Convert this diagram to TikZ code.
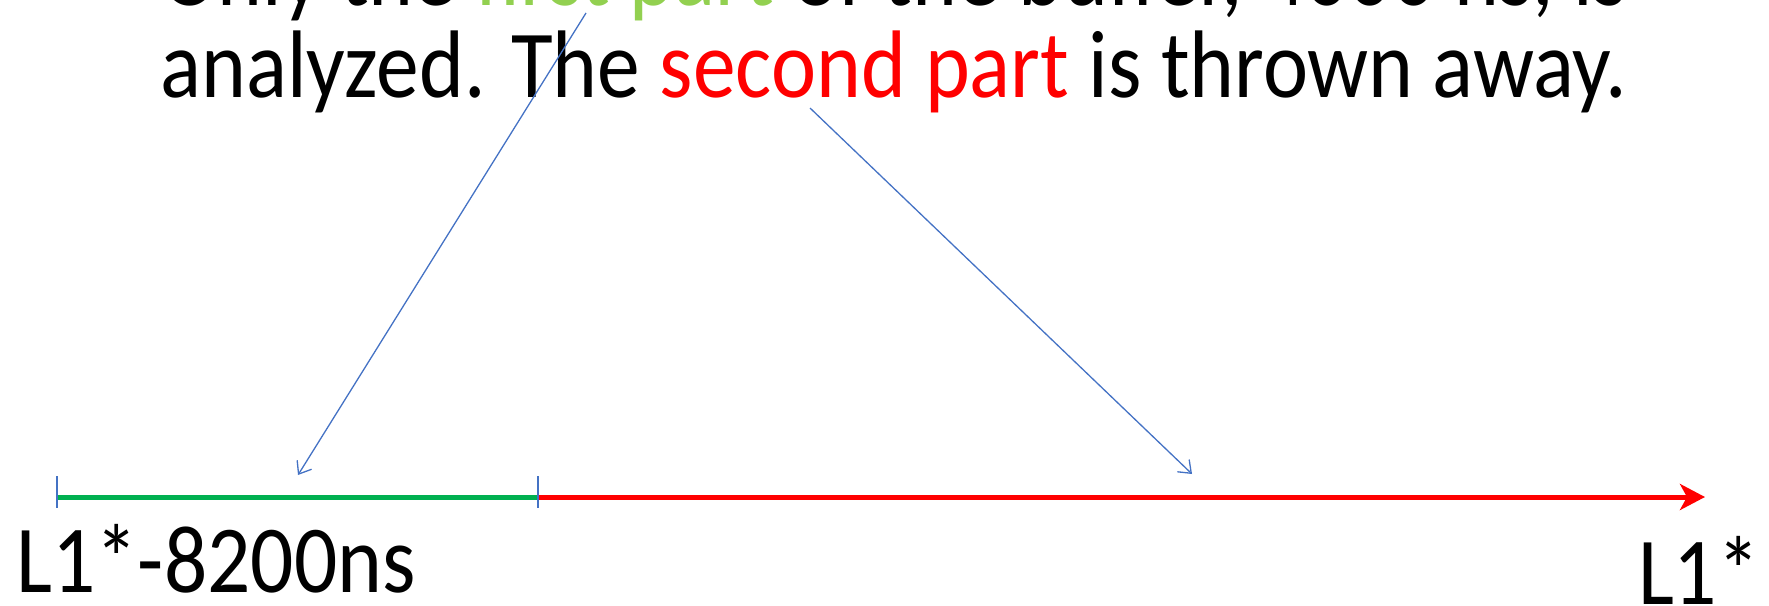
\documentclass[tikz,border=0pt]{standalone}
\usepackage{fontspec}
\setmainfont{Carlito}[FakeStretch=0.89]
\usetikzlibrary{arrows.meta}
\definecolor{firstgreen}{HTML}{92D050}
\definecolor{buffergreen}{HTML}{00B050}
\definecolor{pointerblue}{HTML}{4472C4}

\begin{document}
\begin{tikzpicture}[x=1pt, y=-1pt, >=Stealth,
    caption/.style={font=\fontsize{96}{92}\selectfont, inner sep=0pt},
    pointer/.style={pointerblue, line width=1.3pt, -{Straight Barb[length=11pt,width=17pt]}},
    tickmark/.style={pointerblue, line width=1.6pt}]
    \useasboundingbox (0,0) rectangle (1769,605);

    % text on top
    \node[caption, align=center, anchor=base] (note) at (894,97)
        {Only the \textcolor{firstgreen}{first part} of the buffer, 4000 ns, is\\
         analyzed. The \textcolor{red}{second part} is thrown away.};

    % time axis
    \coordinate (begin) at (57,497);
    \coordinate (split) at (538,497);
    \coordinate (stop) at (1705,497);
    \draw[buffergreen, line width=5pt] (begin) -- (split);
    \draw[red, line width=5pt, -{Stealth[length=25pt,width=26pt,inset=7pt]}] (split) -- (stop);
    \draw[tickmark] (begin) ++(0,-21) -- ++(0,32);
    \draw[tickmark] (split) ++(0,-21) -- ++(0,32);

    \node[caption, anchor=base west] (early) at (16,592) {L1*-8200ns};
    \node[caption, anchor=base east] (late) at (1760,604) {L1*};

    % pointers from the text
    \coordinate (firsttail) at (586,13);
    \coordinate (firsthead) at (298,475);
    \coordinate (secondtail) at (810,108);
    \coordinate (secondhead) at (1192,474);
    \draw[pointer] (firsttail) -- (firsthead);
    \draw[pointer] (secondtail) -- (secondhead);
\end{tikzpicture}
\end{document}
